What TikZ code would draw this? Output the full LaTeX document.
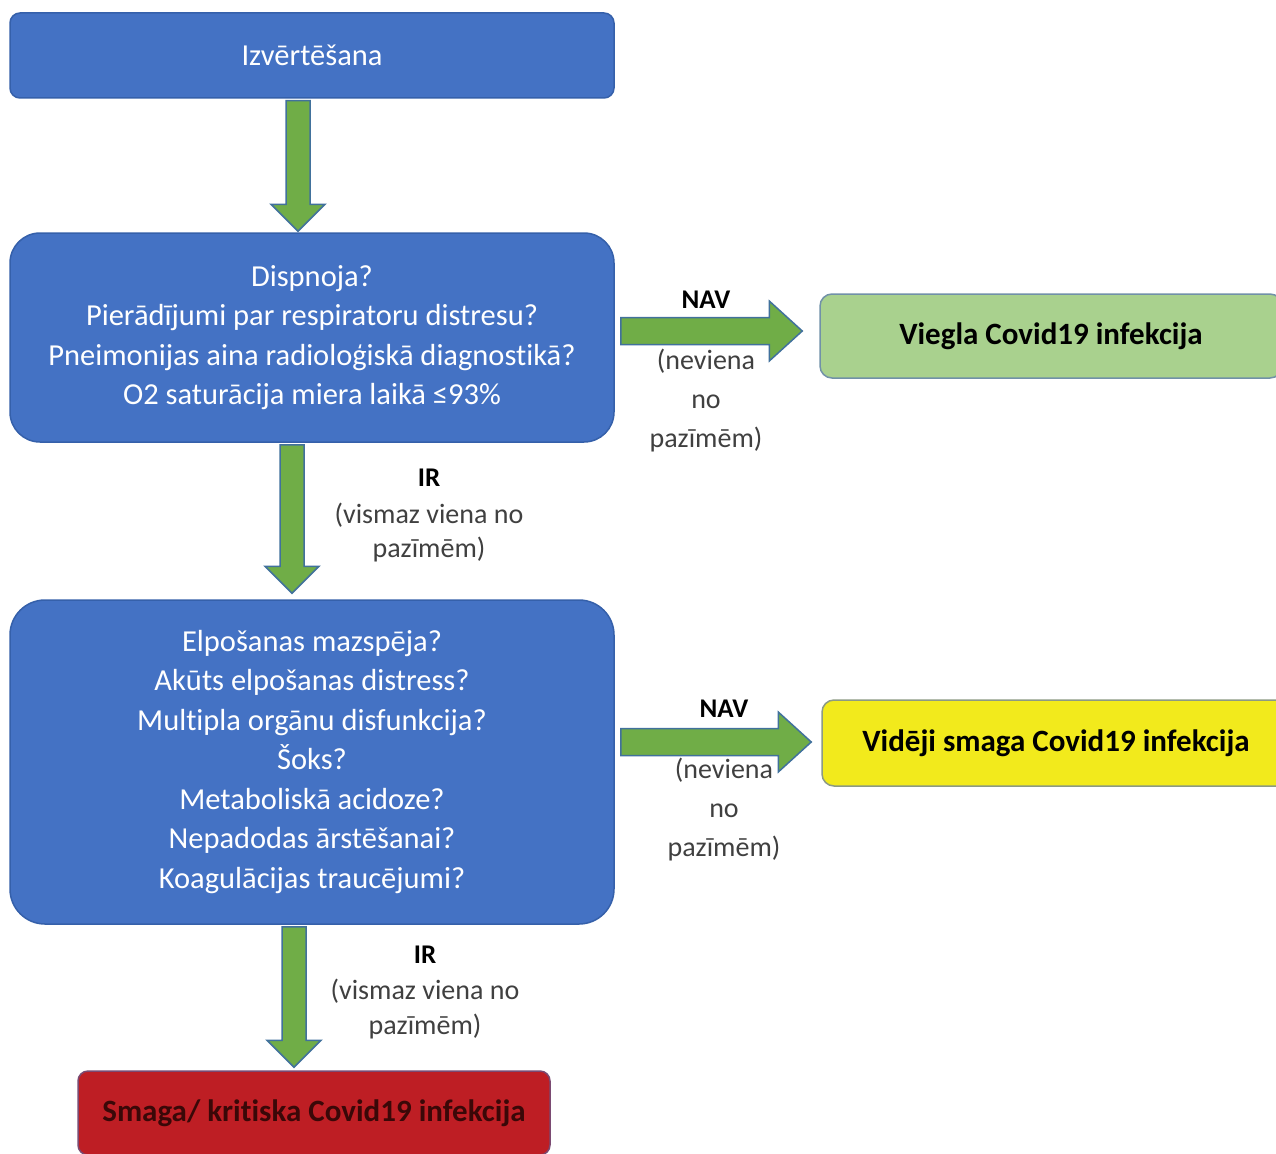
\documentclass[tikz,border=0pt]{standalone}
\usepackage{fontspec}
\setmainfont{Carlito}[Ligatures=NoCommon]
\usetikzlibrary{calc}
\definecolor{boxblue}{HTML}{4472C4}
\definecolor{boxblueline}{HTML}{3560AA}
\definecolor{arrgreen}{HTML}{70AD47}
\definecolor{arrline}{HTML}{41719C}
\definecolor{mildgreen}{HTML}{A9D18E}
\definecolor{mildline}{HTML}{7191A8}
\definecolor{midyellow}{HTML}{F2EA1C}
\definecolor{midline}{HTML}{8C9A84}
\definecolor{sevred}{HTML}{BE1E24}
\definecolor{sevline}{HTML}{7A4A72}
\definecolor{sevtext}{HTML}{3A0808}
\definecolor{labgray}{HTML}{404040}
\tikzset{
  bluebox/.style={draw=boxblueline, line width=1.5pt, fill=boxblue, text=white, align=center,
    font=\fontsize{30.5}{39.5}\selectfont, inner sep=0pt},
  resbox/.style={line width=1.5pt, rounded corners=12pt, align=center,
    font=\fontsize{31}{36}\selectfont\bfseries, inner sep=0pt},
  lab/.style={align=center, text=labgray, font=\fontsize{28}{39}\selectfont, inner sep=0pt},
  labb/.style={align=center, text=black, font=\fontsize{27}{30}\selectfont\bfseries, inner sep=0pt},
  blockarrow/.style={fill=arrgreen, draw=arrline, line width=1.5pt, line join=miter}
}
% vertical (downwards) block arrow: #1 start, #2 tip
\newcommand\blockdown[2]{%
  \path[blockarrow] let \p1=(#1), \p2=(#2) in
    (\x1-12pt,\y1) -- (\x1-12pt,\y2+27pt) -- (\x1-27pt,\y2+27pt) -- (\x1,\y2)
    -- (\x1+27pt,\y2+27pt) -- (\x1+12pt,\y2+27pt) -- (\x1+12pt,\y1) -- cycle;}
% horizontal (rightwards) block arrow: #1 start, #2 tip
\newcommand\blockright[2]{%
  \path[blockarrow] let \p1=(#1), \p2=(#2) in
    (\x1,\y1+13.5pt) -- (\x2-33pt,\y1+13.5pt) -- (\x2-33pt,\y1+30pt) -- (\x2,\y1)
    -- (\x2-33pt,\y1-30pt) -- (\x2-33pt,\y1-13.5pt) -- (\x1,\y1-13.5pt) -- cycle;}
\begin{document}
\begin{tikzpicture}[x=1pt,y=-1pt]
\useasboundingbox (0,0) rectangle (1276,1153);
\fill[white] (0,0) rectangle (1276,1153);
\clip (0,0) rectangle (1276,1153);

% boxes
\node[bluebox, rounded corners=10pt, minimum width=604pt, minimum height=85pt] (b1) at (312,55.5) {Izvērtēšana};
\node[bluebox, rounded corners=30pt, minimum width=604pt, minimum height=209pt] (b2) at (312,337.5)
  {Dispnoja?\\Pierādījumi par respiratoru distresu?\\Pneimonijas aina radioloģiskā diagnostikā?\\O2 saturācija miera laikā ≤93\%};
\node[bluebox, rounded corners=35pt, minimum width=604pt, minimum height=324pt] (b3) at (312,762)
  {Elpošanas mazspēja?\\Akūts elpošanas distress?\\Multipla orgānu disfunkcija?\\Šoks?\\Metaboliskā acidoze?\\Nepadodas ārstēšanai?\\Koagulācijas traucējumi?};
\node[resbox, draw=mildline, fill=mildgreen, text=black, minimum width=462pt, minimum height=84pt] (mild) at (1051,336)
  {Viegla Covid19 infekcija};
\node[resbox, draw=midline, fill=midyellow, text=black, minimum width=468pt, minimum height=86pt] (mid) at (1056,743)
  {Vidēji smaga Covid19 infekcija};
\node[resbox, rounded corners=10pt, draw=sevline, fill=sevred, text=sevtext, minimum width=472pt, minimum height=84pt] (sev) at (314,1113)
  {Smaga/ kritiska Covid19 infekcija};

% arrows
\blockdown{[xshift=-14pt,yshift=-2pt]b1.south}{[xshift=-14pt,yshift=1pt]b2.north}
\blockdown{[xshift=-20pt,yshift=-2pt]b2.south}{[xshift=-20pt,yshift=6pt]b3.north}
\blockdown{[xshift=-18pt,yshift=-2pt]b3.south}{[xshift=-18pt,yshift=3pt]sev.north}
\blockright{[xshift=6pt,yshift=6.5pt]b2.east}{[xshift=-17pt,yshift=5pt]mild.west}
\blockright{[xshift=6pt,yshift=20pt]b3.east}{[xshift=-10pt,yshift=1pt]mid.west}

% labels
\node[labb] (nav1) at (706,300) {NAV};
\node[lab] (no1) at (706,401) {(neviena\\no\\pazīmēm)};
\node[labb] (ir1) at (429,478) {IR};
\node[lab, font=\fontsize{28}{34}\selectfont] (ye1) at (429,533) {(vismaz viena no\\pazīmēm)};
\node[labb] (nav2) at (724,709) {NAV};
\node[lab] (no2) at (724,810) {(neviena\\no\\pazīmēm)};
\node[labb] (ir2) at (425,955) {IR};
\node[lab, font=\fontsize{28}{35}\selectfont] (ye2) at (425,1009.5) {(vismaz viena no\\pazīmēm)};
\end{tikzpicture}
\end{document}
